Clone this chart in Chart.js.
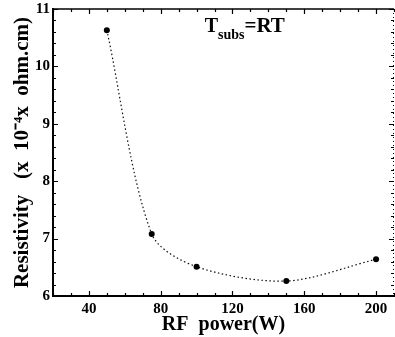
<!DOCTYPE html>
<html>
<head>
<meta charset="utf-8">
<script src="https://cdn.jsdelivr.net/npm/chart.js@4/dist/chart.umd.min.js"></script>
<style>
  body { margin: 0; background: #fff; }
  canvas { display: block; }
</style>
</head>
<body>
<canvas id="chartRes" width="395" height="337"></canvas>
<script>
// datos
const power       = [50, 75, 100, 150, 200];          // RF power (W)
const resistivity = [10.63, 7.08, 6.51, 6.26, 6.64];  // x 10^-4 ohm.cm
const xTicks      = [40, 80, 120, 160, 200];

const SERIF = '"Liberation Serif", "Times New Roman", serif';

// ticks hacia dentro, mayores y menores, en los cuatro lados
const innerTicks = {
  id: 'innerTicks',
  afterDraw(chart) {
    const { ctx, chartArea: a, scales: { x, y } } = chart;
    ctx.save();
    ctx.strokeStyle = '#000';
    ctx.lineWidth = 1.2;
    ctx.beginPath();
    for (let v = 20; v <= 210; v += 10) {
      const px = Math.round(x.getPixelForValue(v)) + 0.5;
      const len = v % 40 === 0 ? 5 : 3;
      ctx.moveTo(px, a.bottom); ctx.lineTo(px, a.bottom - len);
      ctx.moveTo(px, a.top);    ctx.lineTo(px, a.top + len);
    }
    for (let i = 0; i <= 25; i++) {
      const v = 6 + i * 0.2;
      const py = Math.round(y.getPixelForValue(v)) + 0.5;
      const len = i % 5 === 0 ? 5 : 3;
      ctx.moveTo(a.left, py);  ctx.lineTo(a.left + len, py);
      ctx.moveTo(a.right, py); ctx.lineTo(a.right - len, py);
    }
    ctx.stroke();
    // marco superior y derecho
    ctx.lineWidth = 1.5;
    ctx.beginPath();
    ctx.moveTo(a.left, a.top); ctx.lineTo(a.right, a.top);
    ctx.stroke();
    ctx.lineWidth = 1;
    ctx.setLineDash([1, 3]);
    ctx.beginPath();
    ctx.moveTo(a.right - 0.5, a.top); ctx.lineTo(a.right - 0.5, a.bottom);
    ctx.stroke();
    ctx.restore();
  },
};

// etiqueta T_subs = RT
const subsLabel = {
  id: 'subsLabel',
  afterDraw(chart) {
    const { ctx, scales: { x, y } } = chart;
    let px = x.getPixelForValue(104.5);
    const py = y.getPixelForValue(10.6);
    ctx.save();
    ctx.fillStyle = '#000';
    ctx.textBaseline = 'alphabetic';
    ctx.font = `bold 20px ${SERIF}`;
    ctx.fillText('T', px, py);
    px += ctx.measureText('T').width;
    ctx.font = `bold 14px ${SERIF}`;
    ctx.fillText('subs', px, py + 7);
    px += ctx.measureText('subs').width;
    ctx.font = `bold 21px ${SERIF}`;
    ctx.fillText('=RT', px, py);
    ctx.restore();
  },
};

new Chart(document.getElementById('chartRes'), {
  type: 'line',
  data: {
    datasets: [{
      data:                 power.map((p, i) => ({ x: p, y: resistivity[i] })),
      borderColor:          '#111',
      borderWidth:          1.2,
      borderDash:           [1.5, 2.5],
      tension:              0.3,
      pointRadius:          3,
      pointBackgroundColor: '#000',
      pointBorderColor:     '#000',
      pointBorderWidth:     0,
    }],
  },
  options: {
    responsive: false,
    animation:  false,
    layout: { autoPadding: false, padding: { top: 9, right: 1, left: 0, bottom: 0 } },
    plugins: {
      legend:  { display: false },
      tooltip: { enabled: false },
    },
    scales: {
      x: {
        type: 'linear',
        min: 20,
        max: 210,
        afterFit: s => { s.height = 41; s.paddingLeft = 0; s.paddingRight = 0; },
        afterBuildTicks: s => { s.ticks = xTicks.map(v => ({ value: v })); },
        border: { color: '#000', width: 2 },
        grid:   { display: false, drawTicks: false },
        ticks:  { color: '#000', padding: 4, font: { family: SERIF, size: 15, weight: 'bold' } },
        title: {
          display: true,
          text:    'RF  power(W)',
          color:   '#000',
          padding: 0,
          font:    { family: SERIF, size: 20, weight: 'bold' },
        },
      },
      y: {
        min: 6,
        max: 11,
        afterFit: s => { s.width = 53; s.paddingTop = 0; s.paddingBottom = 0; },
        border: { color: '#000', width: 2 },
        grid:   { display: false, drawTicks: false },
        ticks:  { stepSize: 1, color: '#000', padding: 3, font: { family: SERIF, size: 15, weight: 'bold' } },
        title: {
          display: true,
          text:    'Resistivity   (x  10⁻⁴x  ohm.cm)',
          color:   '#000',
          padding: { top: 10, bottom: 0 },
          font:    { family: SERIF, size: 21, weight: 'bold' },
        },
      },
    },
  },
  plugins: [innerTicks, subsLabel],
});
</script>
</body>
</html>
